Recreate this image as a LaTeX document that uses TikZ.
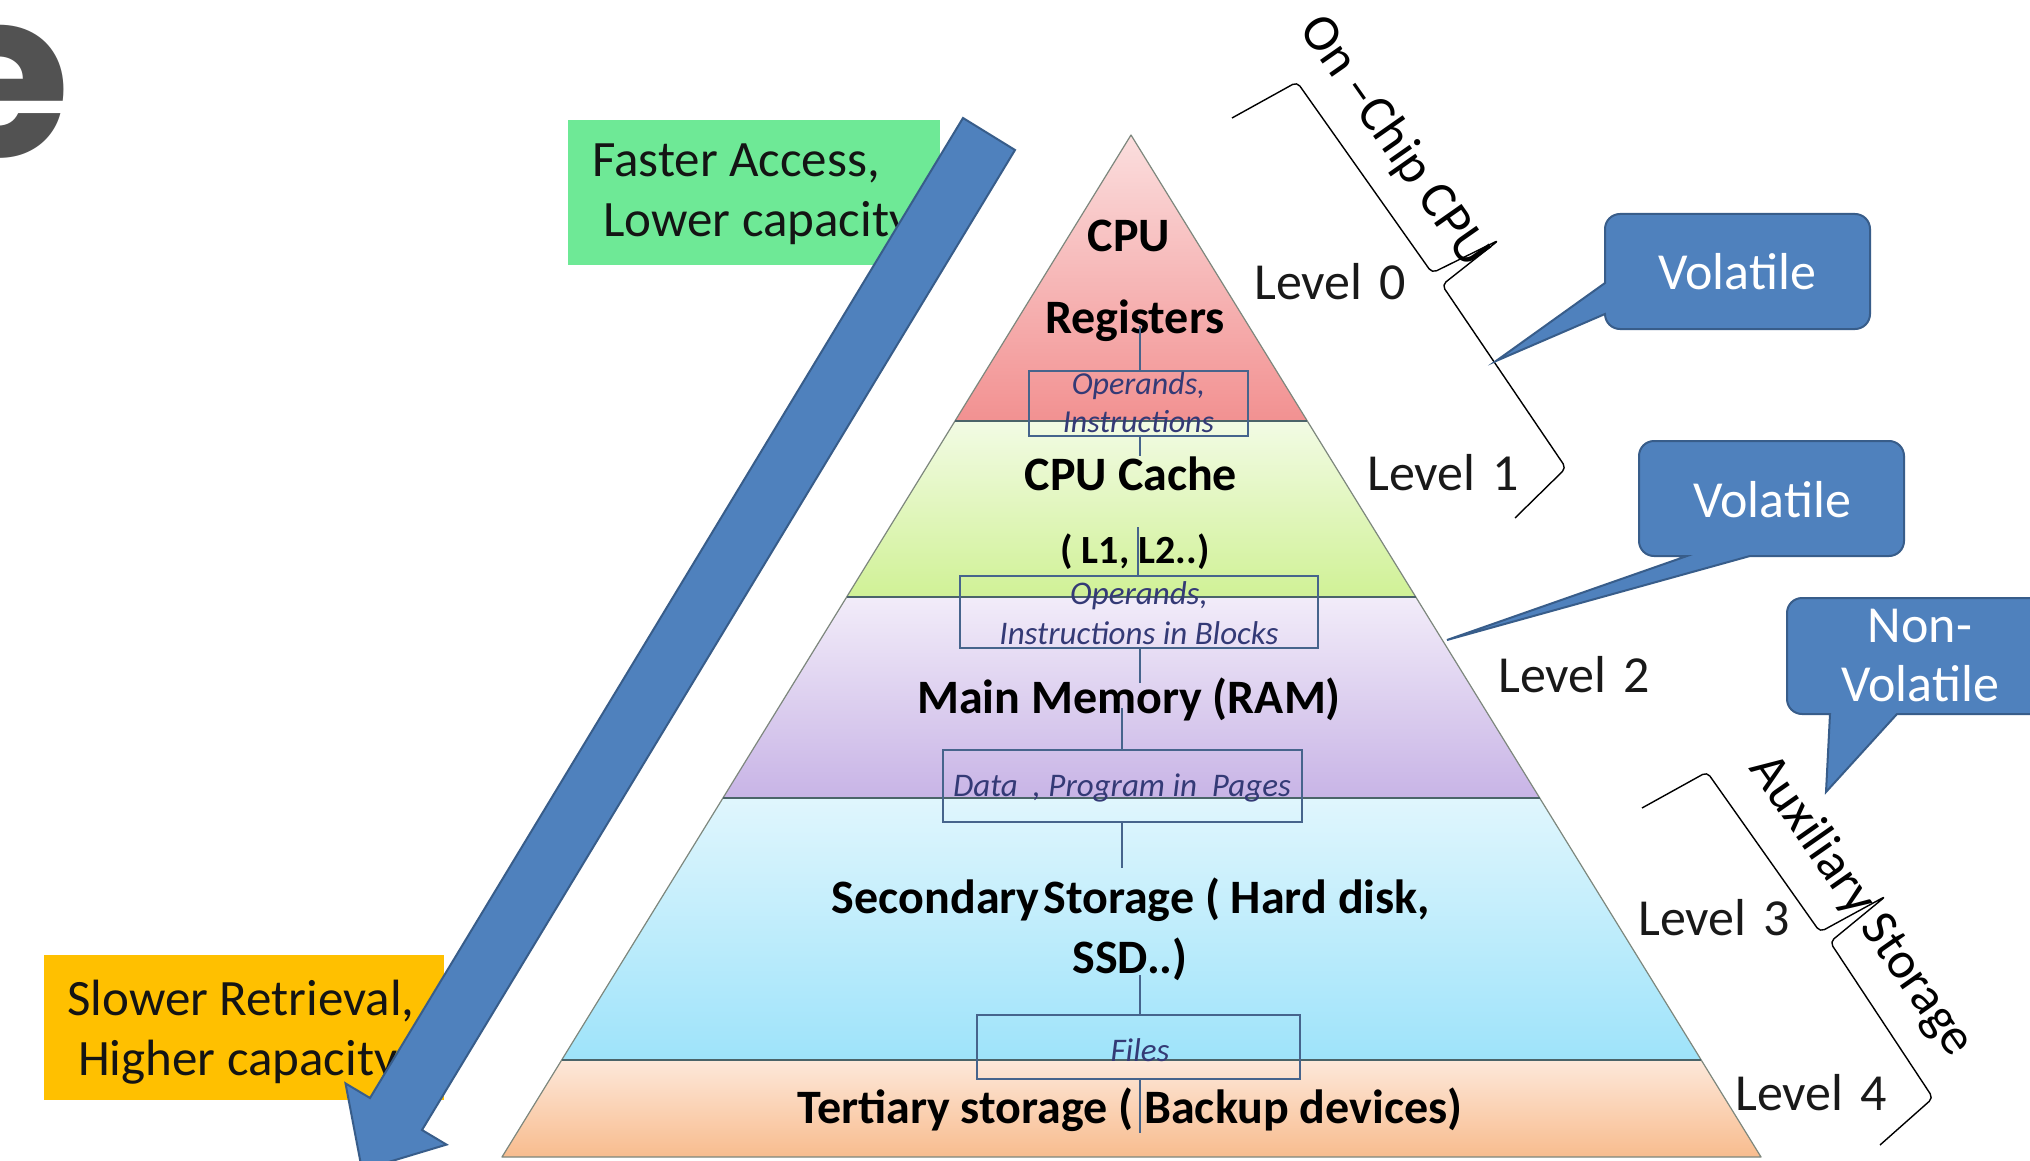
\documentclass[tikz,border=0pt]{standalone}
\usepackage{fontspec}
\setmainfont{Carlito}
\newfontfamily\efont{Poppins}
\definecolor{arrowblue}{RGB}{79,129,189}
\definecolor{arrowedge}{RGB}{56,93,138}
\definecolor{boxline}{RGB}{70,100,140}
\definecolor{labelink}{RGB}{52,58,118}
\definecolor{gbox}{RGB}{110,233,150}
\definecolor{obox}{RGB}{255,192,0}
\definecolor{egray}{RGB}{82,82,82}
\definecolor{redtop}{RGB}{251,222,222}
\definecolor{redbot}{RGB}{242,145,145}
\definecolor{greentop}{RGB}{242,251,228}
\definecolor{greenbot}{RGB}{208,241,150}
\definecolor{purptop}{RGB}{242,236,249}
\definecolor{purpbot}{RGB}{200,180,230}
\definecolor{bluetop}{RGB}{224,246,253}
\definecolor{bluebot}{RGB}{158,227,250}
\definecolor{orangetop}{RGB}{253,232,218}
\definecolor{orangebot}{RGB}{248,188,142}
\definecolor{edgegray}{RGB}{125,135,125}
\definecolor{sepgray}{RGB}{75,100,105}
\begin{document}
\begin{tikzpicture}[x=1pt,y=-1pt,
  edgeline/.style={draw=edgegray, line width=1.2pt},
  sepline/.style={draw=sepgray, line width=2pt},
  tier/.style={font=\fontsize{48}{58}\selectfont\bfseries, inner sep=0, anchor=base, text=black},
  level/.style={font=\fontsize{52}{62}\selectfont, inner sep=0, anchor=base west, text=black!90},
  flowbox/.style={draw=boxline, line width=2pt, inner sep=0, fill=none},
  flowtext/.style={font=\fontsize{32}{38}\selectfont\itshape, text=labelink, align=center, inner sep=0},
  link/.style={draw=boxline, line width=2.5pt},
  callout/.style={fill=arrowblue, draw=arrowedge, line width=2pt},
  calltext/.style={font=\fontsize{52}{60}\selectfont, text=white, align=center, inner sep=0},
  brace/.style={draw=black, line width=1.4pt, rounded corners=5pt, line join=round},
  bracetext/.style={font=\fontsize{52}{60}\selectfont, inner sep=0, rotate=-55},
  note/.style={font=\fontsize{51}{60}\selectfont, inner sep=0, anchor=base west, text=black!92}
]
\useasboundingbox (0,0) rectangle (2030,1161);
\fill[white] (0,0) rectangle (2030,1161);

% large cropped letter
\node[font=\efont\bfseries\fontsize{232}{240}\selectfont, text=egray, inner sep=0, anchor=base east] (bigE) at (71,157) {e};

% colour boxes with notes
\node[fill=gbox, minimum width=372, minimum height=145, inner sep=0, anchor=north west] (fastbox) at (568,120) {};
\node[note] (fast1) at (592,177) {Faster Access,};
\node[note] (fast2) at (603,237) {Lower capacity};
\node[fill=obox, minimum width=400, minimum height=145, inner sep=0, anchor=north west] (slowbox) at (44,955) {};
\node[note] (slow1) at (67,1015) {Slower Retrieval,};
\node[note] (slow2) at (78,1075) {Higher capacity};

% big blue arrow
\filldraw[fill=arrowblue, draw=arrowedge, line width=2pt, line join=miter]
  (963,118) -- (1015,150) -- (422,1130) -- (446.5,1144.6) -- (362,1170) -- (345.5,1083.4) -- (370,1098) -- cycle;

% pyramid bands
\shade[top color=redtop, bottom color=redbot] (1131,135) -- (1307.3,421) -- (955,421) -- cycle;
\shade[top color=greentop, bottom color=greenbot] (955,421) -- (1307.3,421) -- (1415.8,597) -- (846.6,597) -- cycle;
\shade[top color=purptop, bottom color=purpbot] (846.6,597) -- (1415.8,597) -- (1539.7,798) -- (722.9,798) -- cycle;
\shade[top color=bluetop, bottom color=bluebot] (722.9,798) -- (1539.7,798) -- (1701.2,1060) -- (561.7,1060) -- cycle;
\shade[top color=orangetop, bottom color=orangebot] (561.7,1060) -- (1701.2,1060) -- (1761,1157) -- (502,1157) -- cycle;
\draw[edgeline, line join=round] (502,1157) -- (1131,135) -- (1761,1157) -- cycle;
\draw[sepline] (955,421) -- (1307.3,421);
\draw[sepline] (846.6,597) -- (1415.8,597);
\draw[sepline] (722.9,798) -- (1539.7,798);
\draw[sepline] (561.7,1060) -- (1701.2,1060);

% tier labels
\node[tier] (cpu) at (1129,252) {CPU};
\node[tier] (reg) at (1135,333) {Registers};
\node[tier] (cache) at (1131,490) {CPU Cache};
\node[tier, font=\fontsize{40}{48}\selectfont\bfseries] (lvls) at (1135,563) {( L1, L2..)};
\node[tier] (ram) at (1129,713) {Main Memory (RAM)};
\node[tier] (sec1) at (1131,913) {Secondary\hspace{0.08em}Storage ( Hard disk,};
\node[tier] (sec2) at (1130,973) {SSD..)};
\node[tier] (ter) at (1130,1123) {Tertiary storage ( Backup devices)};

% transfer boxes
\node[flowbox, minimum width=219, minimum height=65] (box1) at (1138.5,403.5) {};
\node[flowtext] (box1t) at (1138.5,403) {Operands,\\Instructions};
\node[flowbox, minimum width=358, minimum height=72] (box2) at (1139,612) {};
\node[flowtext, font=\fontsize{33}{40}\selectfont\itshape] (box2t) at (1139,613) {Operands,\\Instructions in Blocks};
\node[flowbox, minimum width=359, minimum height=72] (box3) at (1122.5,786) {};
\node[flowtext, font=\fontsize{33}{40}\selectfont\itshape] (box3t) at (1122,788) {Data\ \ , Program in\ \ Pages};
\node[flowbox, minimum width=323, minimum height=64] (box4) at (1138.5,1047) {};
\node[flowtext, font=\fontsize{33}{40}\selectfont\itshape] (box4t) at (1140,1050) {Files};

% connectors
\coordinate (r1) at (1140,326);
\coordinate (r2) at (1140,456);
\coordinate (r3) at (1138,527);
\coordinate (r4) at (1140,683);
\coordinate (r5) at (1122,708);
\coordinate (r6) at (1122,868);
\coordinate (r7) at (1140,975);
\coordinate (r8) at (1140,1133);
\draw[link] (r1) -- (r1 |- box1.north);
\draw[link] (r2 |- box1.south) -- (r2);
\draw[link] (r3) -- (r3 |- box2.north);
\draw[link] (r4 |- box2.south) -- (r4);
\draw[link] (r5) -- (r5 |- box3.north);
\draw[link] (r6 |- box3.south) -- (r6);
\draw[link] (r7) -- (r7 |- box4.north);
\draw[link] (r8 |- box4.south) -- (r8);

% level labels
\node[level] (lv0) at (1254,299) {Level\hspace{0.33em}0};
\node[level] (lv1) at (1367,490) {Level\hspace{0.33em}1};
\node[level] (lv2) at (1498,692) {Level\hspace{0.33em}2};
\node[level] (lv3) at (1638,935) {Level\hspace{0.33em}3};
\node[level] (lv4) at (1735,1110) {Level\hspace{0.33em}4};

% braces
\draw[brace] (1232,118) -- (1297,82) -- (1432,273) -- (1499,240) -- (1442,285) -- (1566,468) -- (1515,518);
\node[bracetext] (onchip) at (1394,142) {On –Chip CPU};
\draw[brace] (1642,808) -- (1707,772) -- (1820,932) -- (1886,896) -- (1830,942) -- (1933,1098) -- (1880,1145);
\node[bracetext] (aux) at (1861,906) {Auxiliary Storage};

% callouts
\draw[callout] (1620,214) -- (1855,214) arc[start angle=-90, end angle=0, radius=15]
  -- (1870,314) arc[start angle=0, end angle=90, radius=15]
  -- (1620,329) arc[start angle=90, end angle=180, radius=15]
  -- (1496,361) -- (1605,283) -- (1605,229) arc[start angle=180, end angle=270, radius=15] -- cycle;
\node[calltext] (vol1) at (1737,272) {Volatile};
\draw[callout] (1654,441) -- (1889,441) arc[start angle=-90, end angle=0, radius=15]
  -- (1904,541) arc[start angle=0, end angle=90, radius=15]
  -- (1750,556) -- (1447,640) -- (1687,556)
  -- (1654,556) arc[start angle=90, end angle=180, radius=15]
  -- (1639,456) arc[start angle=180, end angle=270, radius=15] -- cycle;
\node[calltext] (vol2) at (1772,500) {Volatile};
\draw[callout] (1802,598) -- (2045,598) arc[start angle=-90, end angle=0, radius=15]
  -- (2060,699) arc[start angle=0, end angle=90, radius=15]
  -- (1897,714) -- (1826,792) -- (1830,714)
  -- (1802,714) arc[start angle=90, end angle=180, radius=15]
  -- (1787,613) arc[start angle=180, end angle=270, radius=15] -- cycle;
\node[calltext, font=\fontsize{52}{59}\selectfont] (vol3) at (1920,656) {Non-\\Volatile};
\end{tikzpicture}
\end{document}
